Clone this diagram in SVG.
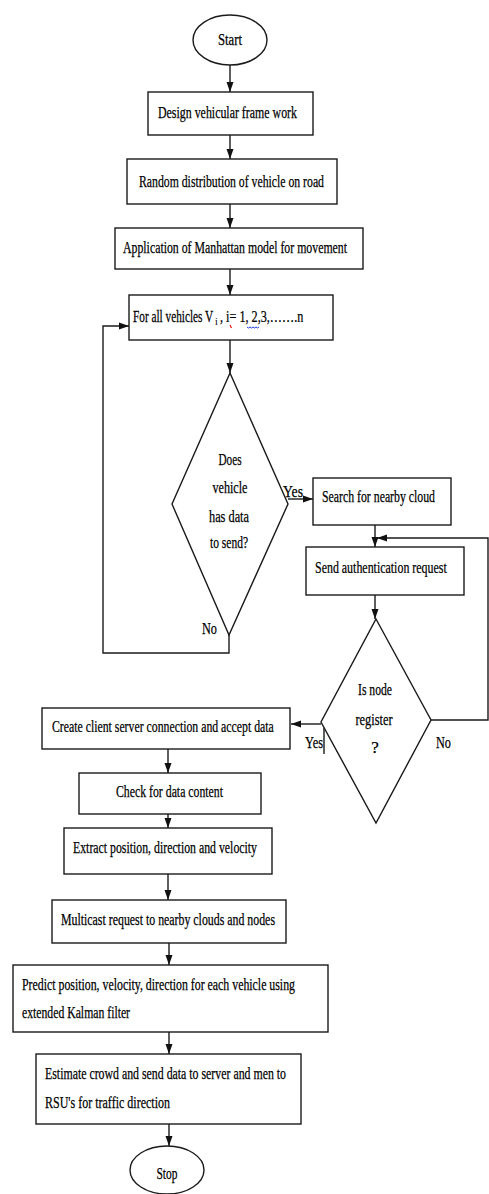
<svg xmlns="http://www.w3.org/2000/svg" width="489" height="1194" viewBox="0 0 489 1194">
<style>
.s{fill:#fff;stroke:#1a1a1a;stroke-width:1.4}
.t{font-family:"Liberation Serif","Times New Roman",serif;font-size:17px;fill:#000;stroke:#000;stroke-width:0.25}
.sub{font-size:10px;stroke-width:0}
.m{text-anchor:middle}
.c{fill:none;stroke:#1a1a1a;stroke-width:1.4}
</style>
<defs>
<marker id="ah" markerUnits="userSpaceOnUse" markerWidth="10" markerHeight="10" viewBox="0 0 10 10" refX="10" refY="5" orient="auto">
<path d="M0,1.5 L10,5 L0,8.5 Z" fill="#111"/>
</marker>
</defs>
<rect width="489" height="1194" fill="#fff"/>
<g id="connectors">
<line class="c" x1="230" y1="65" x2="230" y2="92" marker-end="url(#ah)"/>
<line class="c" x1="230" y1="135" x2="230" y2="159" marker-end="url(#ah)"/>
<line class="c" x1="230" y1="204" x2="230" y2="228" marker-end="url(#ah)"/>
<line class="c" x1="230" y1="269" x2="230" y2="295" marker-end="url(#ah)"/>
<line class="c" x1="230" y1="340" x2="230" y2="373" marker-end="url(#ah)"/>
<line class="c" x1="288" y1="499" x2="313" y2="499" marker-end="url(#ah)"/>
<line class="c" x1="375" y1="525" x2="375" y2="547" marker-end="url(#ah)"/>
<line class="c" x1="375" y1="595" x2="375" y2="619" marker-end="url(#ah)"/>
<polyline class="c" points="431,720 488,720 488,538 377,538" marker-end="url(#ah)"/>
<line class="c" x1="321" y1="724" x2="291" y2="724" marker-end="url(#ah)"/>
<line class="c" x1="168" y1="749" x2="168" y2="773" marker-end="url(#ah)"/>
<line class="c" x1="168" y1="814" x2="168" y2="828" marker-end="url(#ah)"/>
<line class="c" x1="168" y1="874" x2="168" y2="900" marker-end="url(#ah)"/>
<line class="c" x1="169" y1="943" x2="169" y2="965" marker-end="url(#ah)"/>
<line class="c" x1="169" y1="1032" x2="169" y2="1054" marker-end="url(#ah)"/>
<line class="c" x1="169" y1="1124" x2="169" y2="1146" marker-end="url(#ah)"/>
<polyline class="c" points="229,634 229,653 103,653 103,326 129,326" marker-end="url(#ah)"/>
<line class="c" x1="324" y1="728" x2="324" y2="754"/>
<text class="t" x="283" y="497" textLength="20" lengthAdjust="spacingAndGlyphs">Yes</text>
<text class="t" x="202" y="634" textLength="15" lengthAdjust="spacingAndGlyphs">No</text>
<text class="t" x="305" y="748" textLength="18" lengthAdjust="spacingAndGlyphs">Yes</text>
<text class="t" x="436" y="748" textLength="15" lengthAdjust="spacingAndGlyphs">No</text>
</g>
<g id="start">
<ellipse class="s" cx="230" cy="40" rx="37" ry="25"/>
<text class="t m" x="230" y="45" textLength="24" lengthAdjust="spacingAndGlyphs">Start</text>
</g>
<g id="design">
<rect class="s" x="148" y="92" width="165" height="43"/>
<text class="t" x="158" y="118" textLength="139" lengthAdjust="spacingAndGlyphs">Design vehicular frame work</text>
</g>
<g id="random">
<rect class="s" x="127" y="159" width="210" height="45"/>
<text class="t" x="139" y="187" textLength="185" lengthAdjust="spacingAndGlyphs">Random distribution of vehicle on road</text>
</g>
<g id="manhattan">
<rect class="s" x="115" y="228" width="248" height="41"/>
<text class="t" x="123" y="253" textLength="224" lengthAdjust="spacingAndGlyphs">Application of Manhattan model for movement</text>
</g>
<g id="forall">
<rect class="s" x="129" y="295" width="204" height="45"/>
<text class="t" transform="translate(133,322) scale(0.68,1)" x="0" y="0" textLength="118" lengthAdjust="spacingAndGlyphs">For all vehicles V</text>
<text class="t sub" x="215" y="325">i</text>
<text class="t" transform="translate(220,322) scale(0.7,1)" x="0" y="0" textLength="119" lengthAdjust="spacingAndGlyphs">, i= 1, 2,3,…….n</text>
<path d="M230,325 l1.5,3" stroke="#e02020" stroke-width="1.2" fill="none"/>
<path d="M247,327 q1.5,2 3,0 q1.5,2 3,0 q1.5,2 3,0 q1.5,2 3,0" stroke="#2040e0" stroke-width="1" fill="none"/>
</g>
<g id="decision1">
<polygon class="s" points="230,373 288,504 229,635 172,504"/>
<text class="t m" x="230" y="465" textLength="23" lengthAdjust="spacingAndGlyphs">Does</text>
<text class="t m" x="230" y="493" textLength="35" lengthAdjust="spacingAndGlyphs">vehicle</text>
<text class="t m" x="229" y="522" textLength="40" lengthAdjust="spacingAndGlyphs">has data</text>
<text class="t m" x="229" y="548" textLength="38" lengthAdjust="spacingAndGlyphs">to send?</text>
</g>
<g id="search">
<rect class="s" x="313" y="478" width="138" height="47"/>
<text class="t" x="322" y="502" textLength="113" lengthAdjust="spacingAndGlyphs">Search for nearby cloud</text>
</g>
<g id="auth">
<rect class="s" x="306" y="547" width="158" height="48"/>
<text class="t" transform="translate(315,573) scale(0.72,1)" x="0" y="0" textLength="183" lengthAdjust="spacingAndGlyphs">Send authentication request</text>
</g>
<g id="decision2">
<polygon class="s" points="376,619 431,720 376,823 321,722"/>
<text class="t m" x="375" y="695" textLength="34" lengthAdjust="spacingAndGlyphs">Is node</text>
<text class="t m" x="374" y="725" textLength="37" lengthAdjust="spacingAndGlyphs">register</text>
<text class="t m" x="375" y="753">?</text>
</g>
<g id="create">
<rect class="s" x="42" y="708" width="248" height="41"/>
<text class="t" transform="translate(52,732) scale(0.67,1)" x="0" y="0" textLength="331" lengthAdjust="spacingAndGlyphs">Create client server connection and accept data</text>
</g>
<g id="check">
<rect class="s" x="79" y="773" width="182" height="41"/>
<text class="t" x="116" y="797" textLength="107" lengthAdjust="spacingAndGlyphs">Check for data content</text>
</g>
<g id="extract">
<rect class="s" x="64" y="828" width="208" height="46"/>
<text class="t" x="73" y="853" textLength="184" lengthAdjust="spacingAndGlyphs">Extract position, direction and velocity</text>
</g>
<g id="multicast">
<rect class="s" x="52" y="900" width="234" height="43"/>
<text class="t" x="61" y="925" textLength="214" lengthAdjust="spacingAndGlyphs">Multicast request to nearby clouds and nodes</text>
</g>
<g id="predict">
<rect class="s" x="13" y="965" width="315" height="67"/>
<text class="t" x="22" y="990" textLength="273" lengthAdjust="spacingAndGlyphs">Predict position, velocity, direction for each vehicle using</text>
<text class="t" x="22" y="1018" textLength="108" lengthAdjust="spacingAndGlyphs">extended Kalman filter</text>
</g>
<g id="estimate">
<rect class="s" x="36" y="1054" width="265" height="70"/>
<text class="t" x="45" y="1079" textLength="241" lengthAdjust="spacingAndGlyphs">Estimate crowd and send data to server and men to</text>
<text class="t" x="45" y="1108" textLength="125" lengthAdjust="spacingAndGlyphs">RSU's for traffic direction</text>
</g>
<g id="stop">
<ellipse class="s" cx="167" cy="1170" rx="37" ry="24"/>
<text class="t m" x="167" y="1179" textLength="21" lengthAdjust="spacingAndGlyphs">Stop</text>
</g>
</svg>
